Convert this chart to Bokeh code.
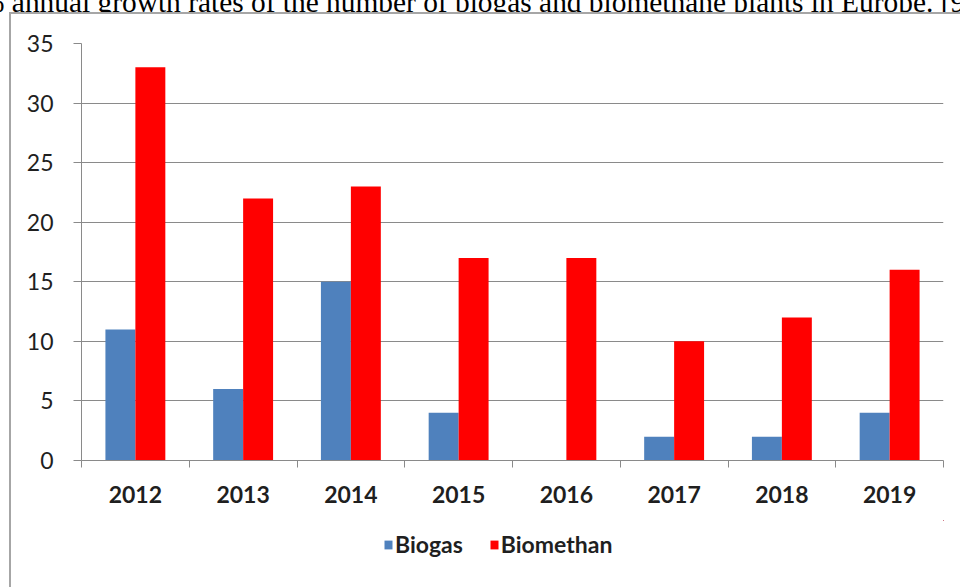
import numpy as np
from bokeh.plotting import figure
from bokeh.models import (ColumnDataSource, FixedTicker, Legend, LegendItem,
                          Range1d, Div, Spacer)
from bokeh.layouts import column, row
from bokeh.transform import dodge
from bokeh.embed import file_html
from bokeh.resources import INLINE

# ---- data ----
years = ["2012", "2013", "2014", "2015", "2016", "2017", "2018", "2019"]
biogas = [11, 6, 15, 4, 0, 2, 2, 4]
biomethan = [33, 22, 23, 17, 17, 10, 12, 16]
y_ticks = [0, 5, 10, 15, 20, 25, 30, 35]
series_names = ["Biogas", "Biomethan"]
series_colors = ["#4f81bd", "#ff0000"]
caption = "% annual growth rates of the number of biogas and biomethane plants in Europe. [9]"

xpos = np.arange(len(years)) + 0.5
src = ColumnDataSource(dict(x=xpos, year=years, biogas=biogas, biomethan=biomethan))

GRID = "#8a8a8a"
TXT = "#1f1f1f"
BORDER = "#a6a6a6"

p = figure(width=949, height=506, output_backend="svg", toolbar_location=None,
           x_range=Range1d(0, len(years)), y_range=Range1d(0, 35),
           min_border_left=70, min_border_right=17, min_border_top=29,
           min_border_bottom=60, background_fill_color="white",
           border_fill_color="white", outline_line_color=None, margin=0)

bw = 0.278
p.vbar(x=dodge("x", -bw / 2), top="biogas", width=bw, source=src,
       fill_color=series_colors[0], line_color=None)
p.vbar(x=dodge("x", bw / 2), top="biomethan", width=bw, source=src,
       fill_color=series_colors[1], line_color=None)

# x axis: labels at centers, ticks at category boundaries
xa = p.xaxis[0]
xa.ticker = FixedTicker(ticks=list(xpos), minor_ticks=list(range(len(years) + 1)))
xa.major_label_overrides = {float(x): y for x, y in zip(xpos, years)}
xa.major_tick_line_color = None
xa.major_tick_out = 0
xa.minor_tick_line_color = GRID
xa.minor_tick_out = 7
xa.minor_tick_in = 0
xa.axis_line_color = GRID
xa.major_label_standoff = 18
xa.major_label_text_font = "Lato"
xa.major_label_text_font_size = "23px"
xa.major_label_text_font_style = "bold"
xa.major_label_text_color = TXT

ya = p.yaxis[0]
ya.ticker = FixedTicker(ticks=y_ticks)
ya.major_tick_out = 8
ya.major_tick_in = 0
ya.major_tick_line_color = GRID
ya.minor_tick_line_color = None
ya.axis_line_color = GRID
ya.major_label_standoff = 20
ya.major_label_text_font = "Lato"
ya.major_label_text_font_size = "23px"
ya.major_label_text_color = TXT

p.xgrid.visible = False
p.ygrid.ticker = FixedTicker(ticks=y_ticks)
p.ygrid.grid_line_color = GRID

# legend strip (separate figure under the chart; its bars lie outside its view)
lg = figure(width=949, height=67, output_backend="svg", toolbar_location=None,
            x_range=Range1d(-3, -2), y_range=Range1d(-2, -1),
            x_axis_location=None, y_axis_location=None,
            min_border=0, outline_line_color=None, margin=0,
            background_fill_color="white", border_fill_color="white")
lg.grid.visible = False
lr1 = lg.vbar(x="x", top="biogas", width=bw, source=src,
              fill_color=series_colors[0], line_color=None)
lr2 = lg.vbar(x="x", top="biomethan", width=bw, source=src,
              fill_color=series_colors[1], line_color=None)
legend = Legend(items=[LegendItem(label=series_names[0], renderers=[lr1]),
                       LegendItem(label=series_names[1], renderers=[lr2])],
                orientation="horizontal", location=(302, 29),
                border_line_color=None, background_fill_alpha=0,
                padding=0, margin=0, spacing=26, label_standoff=2,
                glyph_width=10, glyph_height=11, label_height=24,
                label_text_font="Lato", label_text_font_size="23px",
                label_text_font_style="bold", label_text_color=TXT)
lg.add_layout(legend)

title_div = Div(text=('<div style="font-family:\'Liberation Serif\';font-size:29.4px;'
                      'line-height:29.4px;white-space:nowrap;margin:-21px 0 0 -20px;'
                      'color:#000">' + caption + '</div>'),
                width=960, height=12, margin=0, styles={"overflow": "hidden"})

chart = column(p, lg, spacing=0, margin=0,
               styles={"border-left": f"2px solid {BORDER}",
                       "border-top": f"2px solid {BORDER}"})

layout = column(title_div,
                row(Spacer(width=9, height=575, margin=0), chart, spacing=0, margin=0),
                spacing=0, margin=0)

open("out.html", "w").write(file_html(layout, INLINE))
